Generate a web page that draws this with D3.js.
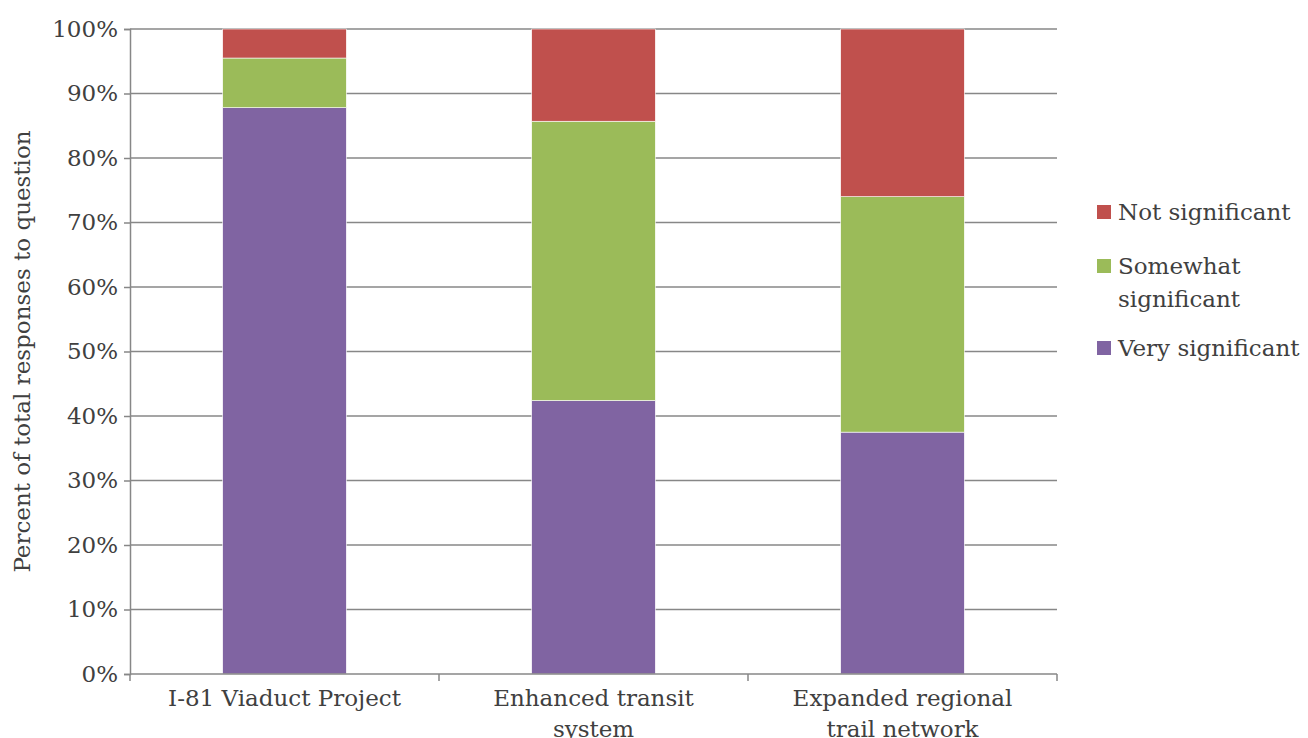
<!DOCTYPE html>
<html>
<head>
<meta charset="utf-8">
<script src="https://cdn.jsdelivr.net/npm/d3@7"></script>
<style>
  body { margin: 0; background: #fff; }
  text { font-family: "DejaVu Serif", serif; fill: #404040; }
</style>
</head>
<body>
<svg width="1308" height="738"></svg>
<script>
// data
var categories = [["I-81 Viaduct Project"], ["Enhanced transit", "system"], ["Expanded regional", "trail network"]];
var verySignificant = [87.8, 42.4, 37.5];
var somewhatSignificant = [7.7, 43.3, 36.5];
var notSignificant = [4.5, 14.3, 26.0];
var seriesNames = ["Very significant", "Somewhat significant", "Not significant"];
var seriesColors = ["#8064a2", "#9bbb59", "#c0504d"];
var yTicks = [0, 10, 20, 30, 40, 50, 60, 70, 80, 90, 100];

var svg = d3.select("svg");
var plotLeft = 130, plotRight = 1057, plotTop = 29, plotBottom = 674;
var fontSize = "23px";

var rows = categories.map(function (c, i) {
  return { key: i, v0: verySignificant[i], v1: somewhatSignificant[i], v2: notSignificant[i] };
});
var stack = d3.stack().keys(["v0", "v1", "v2"])(rows);

var xScale = d3.scaleBand().domain(d3.range(categories.length)).range([plotLeft, plotRight])
  .paddingInner(0.6).paddingOuter(0.3);
var yScale = d3.scaleLinear().domain([0, 100]).range([plotBottom, plotTop]);

// gridlines
svg.append("g").selectAll("line").data(yTicks.slice(1)).enter().append("line")
  .attr("x1", plotLeft).attr("x2", plotRight)
  .attr("y1", function (d) { return yScale(d); }).attr("y2", function (d) { return yScale(d); })
  .style("stroke", "#878787").style("stroke-width", 1.5);

// bars
svg.append("g").selectAll("g").data(stack).enter().append("g")
  .style("fill", function (d, i) { return seriesColors[i]; })
  .selectAll("rect").data(function (d) { return d; }).enter().append("rect")
  .attr("x", function (d) { return xScale(d.data.key); })
  .attr("width", xScale.bandwidth())
  .attr("y", function (d) { return yScale(d[1]); })
  .attr("height", function (d) { return yScale(d[0]) - yScale(d[1]); })
  .style("stroke", "#ffffff").style("stroke-width", 0.6);

// y axis
var yAxis = svg.append("g").attr("transform", "translate(" + plotLeft + ",0)")
  .call(d3.axisLeft(yScale).tickValues(yTicks).tickSize(6).tickPadding(6)
    .tickFormat(function (d) { return d + "%"; }));
yAxis.select(".domain").style("stroke", "#878787").style("stroke-width", 1.5);
yAxis.selectAll(".tick line").style("stroke", "#878787").style("stroke-width", 1.5);
yAxis.selectAll(".tick text").style("font-size", fontSize).style("fill", "#404040")
  .style("font-family", "'DejaVu Serif', serif");

// x axis
var xAxis = svg.append("g").attr("transform", "translate(0," + plotBottom + ")");
xAxis.append("line").attr("x1", plotLeft).attr("x2", plotRight)
  .style("stroke", "#878787").style("stroke-width", 1.5);
var boundaries = d3.range(categories.length + 1).map(function (i) {
  return plotLeft + i * xScale.step();
});
xAxis.selectAll(".bt").data(boundaries).enter().append("line")
  .attr("x1", function (d) { return d; }).attr("x2", function (d) { return d; })
  .attr("y1", 0).attr("y2", 7)
  .style("stroke", "#878787").style("stroke-width", 1.5);

var labels = xAxis.selectAll(".xl").data(categories).enter().append("text")
  .attr("text-anchor", "middle")
  .attr("transform", function (d, i) {
    return "translate(" + (xScale(i) + xScale.bandwidth() / 2) + ",32)";
  })
  .style("font-size", fontSize);
labels.selectAll("tspan").data(function (d) { return d; }).enter().append("tspan")
  .attr("x", 0).attr("dy", function (d, i) { return i === 0 ? 0 : 31; })
  .text(function (d) { return d; });

// y label
svg.append("text")
  .attr("text-anchor", "middle")
  .attr("transform", "translate(30," + ((plotTop + plotBottom) / 2) + ")rotate(-90)")
  .style("font-size", fontSize)
  .text("Percent of total responses to question");

// legend
var legendItems = [
  { i: 2, lines: ["Not significant"], y: 212 },
  { i: 1, lines: ["Somewhat", "significant"], y: 266 },
  { i: 0, lines: ["Very significant"], y: 348 }
];
var lg = svg.append("g").selectAll("g").data(legendItems).enter().append("g");
lg.append("rect")
  .attr("x", 1097).attr("y", function (d) { return d.y - 7; })
  .attr("width", 14).attr("height", 14)
  .style("fill", function (d) { return seriesColors[d.i]; });
var lt = lg.append("text")
  .attr("x", 1118).attr("y", function (d) { return d.y + 8; })
  .style("font-size", fontSize);
lt.selectAll("tspan").data(function (d) { return d.lines; }).enter().append("tspan")
  .attr("x", 1118).attr("dy", function (d, i) { return i === 0 ? 0 : 33; })
  .text(function (d) { return d; });
</script>
</body>
</html>
